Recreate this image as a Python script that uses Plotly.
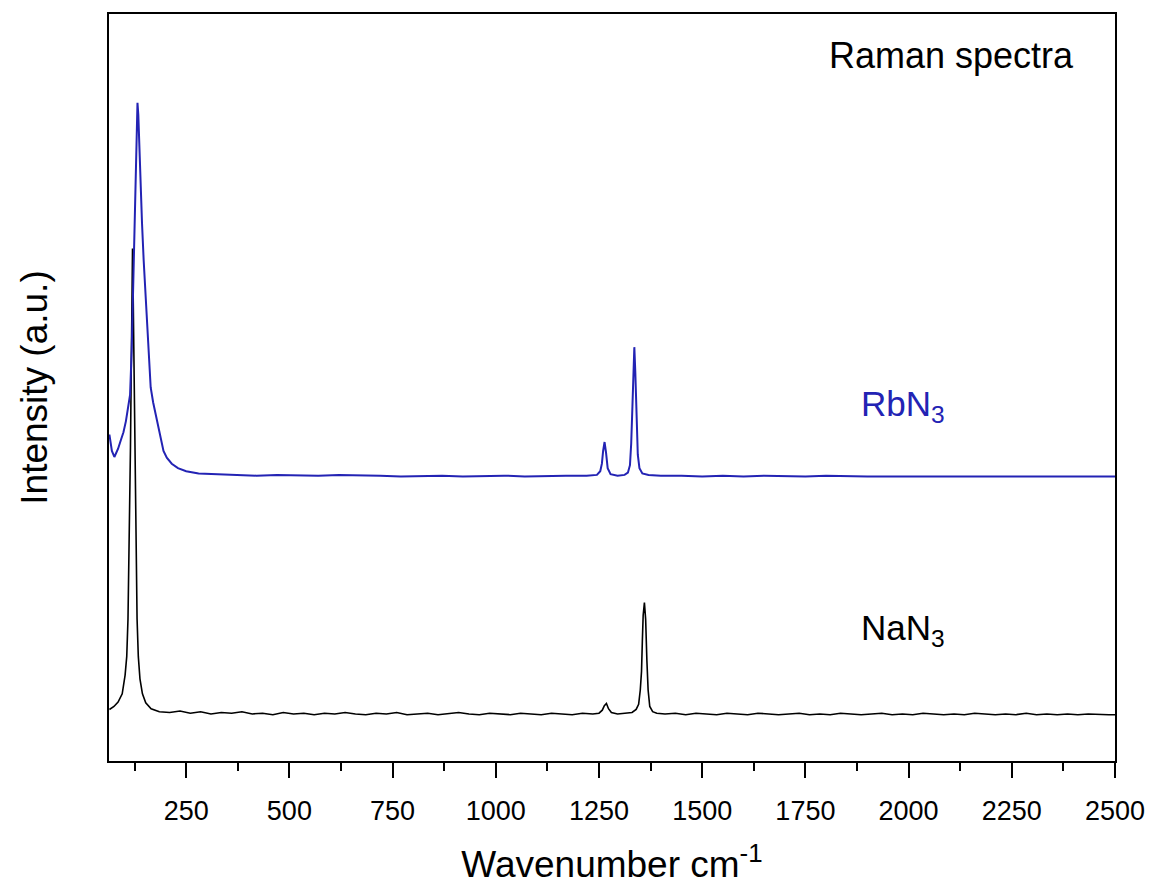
import plotly.graph_objects as go

# NaN3 spectrum (wavenumber, intensity a.u.)
nan3_x = [64, 75, 85, 95, 102, 106, 109, 112, 115, 117, 119, 120, 121, 123, 125, 128, 131, 134, 138, 144,
          152, 165, 185, 210, 235, 260, 285, 310, 335, 360, 385, 410, 435, 460, 485, 510, 535, 560, 585,
          610, 635, 660, 685, 710, 735, 760, 785, 810, 835, 860, 885, 910, 935, 960, 985, 1010, 1035,
          1060, 1085, 1110, 1135, 1160, 1185, 1210, 1235, 1250, 1258, 1263, 1268, 1273, 1280, 1295, 1315,
          1330, 1340, 1346, 1350, 1353, 1355, 1357, 1360, 1363, 1366, 1369, 1373, 1380, 1390, 1410, 1435,
          1460, 1485, 1510, 1535, 1560, 1585, 1610, 1635, 1660, 1685, 1710, 1735, 1760, 1785, 1810, 1835,
          1860, 1885, 1910, 1935, 1960, 1985, 2010, 2035, 2060, 2085, 2110, 2135, 2160, 2185, 2210, 2235,
          2260, 2285, 2310, 2335, 2360, 2385, 2410, 2435, 2460, 2485, 2500]
nan3_y = [6.9, 7.3, 7.9, 9.0, 11.5, 14.0, 19.0, 28.0, 42.0, 53.0, 65.0, 68.6, 65.0, 54.0, 42.0, 28.0, 19.0,
          14.0, 11.0, 9.0, 7.8, 7.0, 6.6, 6.5, 6.7, 6.4, 6.6, 6.3, 6.5, 6.4, 6.6, 6.3, 6.4, 6.2, 6.5, 6.3,
          6.4, 6.2, 6.4, 6.3, 6.5, 6.3, 6.2, 6.4, 6.3, 6.5, 6.2, 6.3, 6.4, 6.2, 6.3, 6.5, 6.3, 6.2, 6.4, 6.3,
          6.2, 6.4, 6.3, 6.2, 6.4, 6.3, 6.2, 6.4, 6.3, 6.4, 6.8, 7.4, 7.7, 7.0, 6.5, 6.3, 6.4, 6.5, 6.9, 7.6,
          9.5, 12.0, 16.0, 19.5, 21.2, 19.0, 13.5, 9.5, 7.3, 6.6, 6.4, 6.3, 6.4, 6.2, 6.4, 6.3, 6.2, 6.4,
          6.3, 6.2, 6.4, 6.3, 6.2, 6.3, 6.4, 6.2, 6.3, 6.2, 6.4, 6.3, 6.2, 6.3, 6.4, 6.2, 6.3, 6.2, 6.4,
          6.3, 6.2, 6.3, 6.2, 6.4, 6.3, 6.2, 6.3, 6.2, 6.4, 6.2, 6.3, 6.2, 6.3, 6.2, 6.3, 6.2, 6.2, 6.2]

# RbN3 spectrum (offset)
rbn3_x = [64, 66, 70, 76, 85, 92, 98, 104, 110, 114, 118, 122, 125, 128, 130, 132, 134, 137, 140, 143,
          147, 151, 155, 159, 164, 170, 178, 186, 195, 203, 215, 230, 250, 280, 320, 370, 420, 470, 520,
          570, 620, 670, 720, 770, 820, 870, 920, 970, 1020, 1070, 1120, 1170, 1220, 1245, 1253, 1257,
          1260, 1263.5, 1267, 1271, 1278, 1295, 1312, 1320, 1325, 1328, 1331, 1333.5, 1335.6, 1338, 1341,
          1344, 1348, 1355, 1370, 1400, 1450, 1500, 1550, 1600, 1650, 1700, 1750, 1800, 1850, 1900, 1950,
          2000, 2050, 2100, 2150, 2200, 2250, 2300, 2350, 2400, 2450, 2500]
rbn3_y = [43.7, 42.8, 41.5, 40.7, 41.8, 43.0, 44.0, 45.5, 47.5, 49.0, 55.0, 64.0, 72.0, 80.0, 85.0, 88.1,
          86.5, 81.0, 76.0, 72.0, 67.0, 63.0, 58.5, 53.5, 50.0, 48.0, 46.0, 44.0, 41.5, 40.6, 39.8, 39.2,
          38.8, 38.5, 38.4, 38.3, 38.2, 38.3, 38.2, 38.2, 38.3, 38.2, 38.2, 38.1, 38.2, 38.2, 38.1, 38.2,
          38.2, 38.1, 38.2, 38.2, 38.2, 38.3, 38.8, 39.8, 41.5, 42.7, 41.3, 39.2, 38.4, 38.2, 38.3, 38.6,
          39.6, 42.5, 47.5, 53.0, 55.4, 52.0, 45.0, 41.0, 39.2, 38.5, 38.3, 38.2, 38.2, 38.1, 38.2, 38.1,
          38.2, 38.1, 38.1, 38.2, 38.1, 38.1, 38.1, 38.1, 38.2, 38.1, 38.1, 38.1, 38.1, 38.1, 38.1, 38.1,
          38.1, 38.1]

x_ticks = [250, 500, 750, 1000, 1250, 1500, 1750, 2000, 2250, 2500]
FONT = "Liberation Sans, Arial, sans-serif"
BLUE = "#2323B4"

fig = go.Figure()
fig.add_trace(go.Scatter(x=nan3_x, y=nan3_y, mode="lines", line=dict(color="black", width=1.6),
                         showlegend=False, hoverinfo="skip"))
fig.add_trace(go.Scatter(x=rbn3_x, y=rbn3_y, mode="lines", line=dict(color=BLUE, width=2),
                         showlegend=False, hoverinfo="skip"))

fig.update_layout(
    width=1157, height=890,
    margin=dict(l=109, r=35, t=14, b=128),
    paper_bgcolor="white", plot_bgcolor="white",
    font=dict(family=FONT, color="black"),
    xaxis=dict(range=[63, 2500], tickvals=x_ticks, ticktext=[str(v) for v in x_ticks],
               ticks="outside", ticklen=15, tickwidth=2, tickcolor="black",
               minor=dict(ticks="outside", ticklen=8, tickwidth=2, tickcolor="black", dtick=125, tick0=0),
               showline=True, linewidth=2, linecolor="black", mirror=True,
               showgrid=False, zeroline=False,
               tickfont=dict(size=27, family=FONT), ticklabelstandoff=10,
               title=dict(text="Wavenumber cm<sup>-1</sup>", font=dict(size=37, family=FONT), standoff=26)),
    yaxis=dict(range=[0, 100], showticklabels=False, ticks="",
               showline=True, linewidth=2, linecolor="black", mirror=True,
               showgrid=False, zeroline=False,
               title=dict(text="Intensity (a.u.)", font=dict(size=37, family=FONT), standoff=48)),
    annotations=[
        dict(x=0.961, y=0.945, xref="paper", yref="paper", text="Raman spectra", showarrow=False,
             xanchor="right", yanchor="middle", font=dict(size=36, family=FONT, color="black")),
        dict(x=1880, y=47.5, xref="x", yref="y", text="RbN<sub>3</sub>", showarrow=False,
             xanchor="left", yanchor="middle", font=dict(size=35, family=FONT, color=BLUE)),
        dict(x=1880, y=17.5, xref="x", yref="y", text="NaN<sub>3</sub>", showarrow=False,
             xanchor="left", yanchor="middle", font=dict(size=35, family=FONT, color="black")),
    ],
)

fig.write_html("out.html")
